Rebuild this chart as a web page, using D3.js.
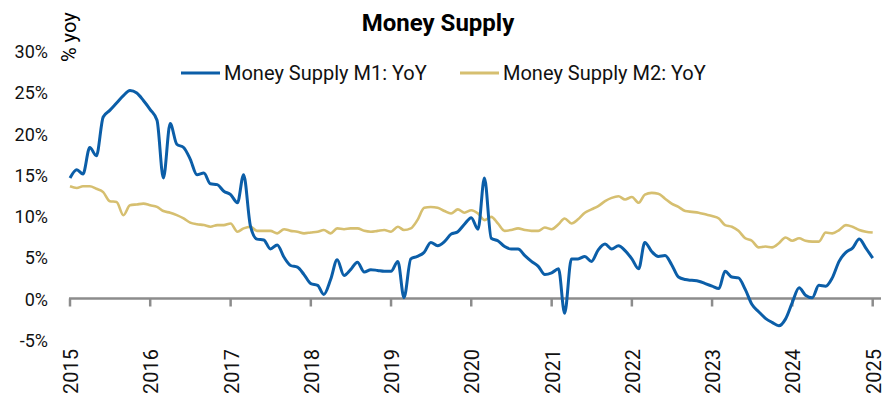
<!DOCTYPE html>
<html>
<head>
<meta charset="utf-8">
<script src="https://cdn.jsdelivr.net/npm/d3@7"></script>
<style>
  body { margin: 0; background: #fff; }
  svg { display: block; font-family: Roboto, "Noto Sans", sans-serif; }
</style>
</head>
<body>
<div id="chart"></div>
<script>
// Monthly YoY growth (%), Jan 2015 .. Jan 2025
const m1Values = [
  14.6, 15.6, 15.1, 18.3, 17.3, 22.0, 22.8, 23.7, 24.6, 25.2, 24.9, 24.0,
  22.9, 21.6, 14.6, 21.2, 18.7, 18.3, 16.9, 15.0, 15.2, 13.9, 13.8, 13.0,
  12.6, 11.6, 15.0, 8.8, 7.2, 7.1, 6.0, 6.5, 5.0, 4.0, 3.8, 2.9,
  1.8, 1.6, 0.5, 2.3, 4.7, 2.8, 3.5, 4.4, 3.2, 3.5, 3.4, 3.3,
  3.3, 4.5, 0.1, 4.8, 5.1, 5.6, 6.8, 6.4, 6.9, 7.8, 8.1, 9.0,
  9.8, 8.4, 14.6, 7.3, 7.0, 6.3, 6.0, 6.0, 5.2, 4.5, 3.9, 2.9,
  3.1, 3.6, -1.8, 4.8, 4.8, 5.1, 4.5, 5.9, 6.6, 6.0, 6.4, 5.8,
  4.8, 3.6, 6.8, 5.7, 5.1, 5.2, 4.1, 2.6, 2.3, 2.2, 2.1, 1.8,
  1.5, 1.2, 3.3, 2.6, 2.5, 1.1, -0.7, -1.6, -2.4, -2.9, -3.3, -2.5,
  -0.5, 1.3, 0.4, 0.1, 1.6, 1.5, 2.5, 4.5, 5.6, 6.1, 7.2, 6.1,
  4.9
];
const m2Values = [
  13.6, 13.4, 13.6, 13.6, 13.3, 12.9, 11.8, 11.7, 10.1, 11.3, 11.4, 11.5,
  11.3, 11.1, 10.6, 10.4, 10.1, 9.7, 9.2, 9.0, 8.9, 8.7, 8.9, 8.9,
  9.1, 8.1, 8.5, 8.7, 8.2, 8.2, 8.2, 7.9, 8.4, 8.2, 8.1, 7.9,
  8.0, 8.1, 8.3, 7.9, 8.5, 8.4, 8.5, 8.5, 8.2, 8.1, 8.2, 8.3,
  8.1, 8.7, 8.3, 8.5, 9.5, 11.0, 11.1, 11.0, 10.6, 10.3, 10.8, 10.4,
  10.7, 10.3, 9.5, 9.9, 9.1, 8.2, 8.3, 8.5, 8.3, 8.2, 8.2, 8.6,
  8.4, 9.0, 9.7, 9.1, 9.6, 10.4, 10.8, 11.2, 11.8, 12.2, 12.4, 12.0,
  12.3, 11.6, 12.6, 12.8, 12.7, 12.1, 11.5, 11.1, 10.6, 10.5, 10.4, 10.2,
  10.0, 9.7, 8.9, 8.7, 8.2, 7.3, 7.0, 6.2, 6.3, 6.2, 6.7, 7.4,
  7.0, 7.3, 7.0, 6.9, 6.9, 8.0, 7.9, 8.3, 8.9, 8.7, 8.3, 8.1,
  8.0
];
const yTicks = [-5, 0, 5, 10, 15, 20, 25, 30];
const yearTicks = [2015, 2016, 2017, 2018, 2019, 2020, 2021, 2022, 2023, 2024, 2025];
const seriesNames = ["Money Supply M1: YoY", "Money Supply M2: YoY"];
const seriesColors = ["#0b5ea8", "#d6bf70"];

const width = 883, height = 401;
const months = d3.timeMonth.range(new Date(2015, 0, 1), new Date(2015, m1Values.length, 1));

const svg = d3.select("#chart").append("svg")
  .attr("width", width)
  .attr("height", height);

const x = d3.scaleTime()
  .domain([new Date(2015, 0, 1), new Date(2025, 0, 1)])
  .range([70, 872.7]);

const y = d3.scaleLinear()
  .domain([-5, 30])
  .range([339.75, 51]);

// Title
svg.append("text")
  .attr("x", 438).attr("y", 31)
  .attr("text-anchor", "middle")
  .attr("font-size", 24).attr("font-weight", "bold")
  .text("Money Supply");

// y unit label
svg.append("text")
  .attr("transform", "translate(76,62) rotate(-90)")
  .attr("font-size", 20)
  .text("% yoy");

// y tick labels
svg.append("g").selectAll("text")
  .data(yTicks)
  .join("text")
  .attr("x", 48)
  .attr("y", d => y(d) + 7)
  .attr("text-anchor", "end")
  .attr("font-size", 18)
  .attr("fill", "#111")
  .text(d => d + "%");

// zero axis with year ticks
const axis = svg.append("g");
axis.append("line")
  .attr("x1", x(new Date(2015, 0, 1)) - 1).attr("x2", 881)
  .attr("y1", y(0)).attr("y2", y(0))
  .attr("stroke", "#8c8c8c").attr("stroke-width", 2.5);
axis.selectAll("line.tick")
  .data(yearTicks)
  .join("line")
  .attr("class", "tick")
  .attr("x1", d => x(new Date(d, 0, 1))).attr("x2", d => x(new Date(d, 0, 1)))
  .attr("y1", y(0)).attr("y2", y(0) + 8)
  .attr("stroke", "#8c8c8c").attr("stroke-width", 2.5);

svg.append("g").selectAll("text")
  .data(yearTicks)
  .join("text")
  .attr("transform", d => `translate(${x(new Date(d, 0, 1)) + 8},349) rotate(-90)`)
  .attr("text-anchor", "end")
  .attr("font-size", 20)
  .attr("fill", "#111")
  .text(d => d);

// lines
const line = d3.line()
  .x((d, i) => x(months[i]))
  .y(d => y(d))
  .curve(d3.curveMonotoneX);

svg.append("path")
  .datum(m2Values)
  .attr("fill", "none")
  .attr("stroke", seriesColors[1])
  .attr("stroke-width", 2.6)
  .attr("d", line);

svg.append("path")
  .datum(m1Values)
  .attr("fill", "none")
  .attr("stroke", seriesColors[0])
  .attr("stroke-width", 3)
  .attr("d", line);

// legend
const legendX = [181, 460];
const legend = svg.append("g").selectAll("g")
  .data(seriesNames)
  .join("g")
  .attr("transform", (d, i) => `translate(${legendX[i]},73)`);
legend.append("line")
  .attr("x1", 0).attr("x2", 39)
  .attr("stroke", (d, i) => seriesColors[i])
  .attr("stroke-width", 3);
legend.append("text")
  .attr("x", 43).attr("y", 7)
  .attr("font-size", 20)
  .attr("fill", "#111")
  .text(d => d);
</script>
</body>
</html>
